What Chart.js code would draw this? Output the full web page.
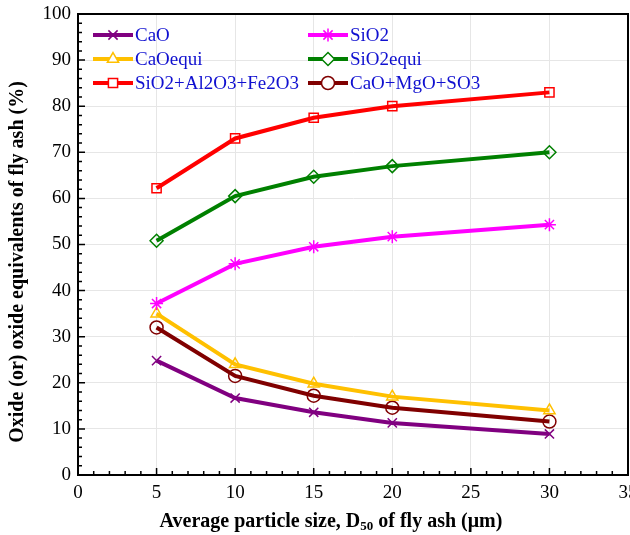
<!DOCTYPE html>
<html>
<head>
<script src="https://cdn.jsdelivr.net/npm/chart.js@4.4.0/dist/chart.umd.min.js"></script>
<style>
  body { margin: 0; background: #fff; }
  #wrap { width: 630px; height: 535px; }
</style>
</head>
<body>
<div id="wrap"><canvas id="c"></canvas></div>
<script>
// particle size D50 (um)
const sizes = [5, 10, 15, 20, 30];

const cao      = [24.8, 16.7, 13.6, 11.3, 8.9];
const sio2     = [37.2, 45.8, 49.5, 51.7, 54.3];
const caoEqui  = [35.0, 24.0, 19.8, 17.0, 14.0];
const sio2Equi = [50.8, 60.5, 64.7, 67.0, 70.0];
const sumSAF   = [62.2, 73.0, 77.5, 80.0, 83.0];
const sumCMS   = [32.0, 21.5, 17.2, 14.6, 11.6];

const names = ['CaO', 'SiO2', 'CaOequi', 'SiO2equi', 'SiO2+Al2O3+Fe2O3', 'CaO+MgO+SO3'];

const serif = '"Liberation Serif", "Times New Roman", serif';

function series(label, vals, color, style, rot) {
    return {
        label: label,
        data: sizes.map((x, i) => ({ x: x, y: vals[i] })),
        borderColor: color,
        backgroundColor: 'rgba(255,255,255,0)',
        borderWidth: 4,
        pointStyle: style,
        pointRotation: rot || 0,
        pointRadius: 6.5,
        pointBorderWidth: 1.5,
        pointBorderColor: color,
        pointBackgroundColor: 'rgba(255,255,255,0)',
        tension: 0
    };
}

const datasets = [
    series(names[0], cao, '#800080', 'crossRot'),
    series(names[1], sio2, '#ff00ff', 'star'),
    series(names[2], caoEqui, '#ffc000', 'triangle'),
    series(names[3], sio2Equi, '#008000', 'rectRot'),
    series(names[4], sumSAF, '#ff0000', 'rect'),
    series(names[5], sumCMS, '#800000', 'circle')
];

// box, inward minor ticks, axis titles and in-plot legend
const decor = {
    id: 'decor',
    afterDraw(chart) {
        const ctx = chart.ctx, a = chart.chartArea;
        const xs = chart.scales.x, ys = chart.scales.y;
        ctx.save();
        ctx.strokeStyle = '#000';
        ctx.lineWidth = 2;
        ctx.strokeRect(a.left, a.top, a.right - a.left, a.bottom - a.top);
        ctx.lineWidth = 1.5;
        ctx.beginPath();
        for (let v = 0; v <= 35; v++) {
            const px = xs.getPixelForValue(v);
            const len = v % 5 === 0 ? 7 : 4;
            ctx.moveTo(px, a.bottom);
            ctx.lineTo(px, a.bottom - len);
        }
        for (let v = 0; v <= 100; v += 2) {
            const py = ys.getPixelForValue(v);
            const len = v % 10 === 0 ? 7 : 4;
            ctx.moveTo(a.left, py);
            ctx.lineTo(a.left + len, py);
        }
        ctx.stroke();

        // axis titles
        ctx.fillStyle = '#000';
        ctx.textBaseline = 'middle';
        ctx.textAlign = 'left';
        const big = 'bold 20px ' + serif, small = 'bold 13px ' + serif;
        const p1 = 'Average particle size, D', p2 = '50', p3 = ' of fly ash (\u03bcm)';
        ctx.font = big;
        const w1 = ctx.measureText(p1).width, w3 = ctx.measureText(p3).width;
        ctx.font = small;
        const w2 = ctx.measureText(p2).width;
        let tx = 331 - (w1 + w2 + w3) / 2;
        const ty = chart.height - 13;
        ctx.font = big; ctx.fillText(p1, tx, ty); tx += w1;
        ctx.font = small; ctx.fillText(p2, tx, ty + 5); tx += w2;
        ctx.font = big; ctx.fillText(p3, tx, ty);

        ctx.save();
        ctx.translate(18, 262);
        ctx.rotate(-Math.PI / 2);
        ctx.textAlign = 'center';
        ctx.font = big;
        ctx.fillText('Oxide (or) oxide equivalents of fly ash (%)', 0, 0);
        ctx.restore();

        // legend, two columns
        ctx.textAlign = 'left';
        ctx.font = '19px ' + serif;
        chart.data.datasets.forEach((ds, i) => {
            const col = i % 2, row = Math.floor(i / 2);
            const x0 = a.left + 15 + col * 215;
            const y0 = a.top + 21 + row * 24;
            ctx.strokeStyle = ds.borderColor;
            ctx.lineWidth = 4;
            ctx.beginPath();
            ctx.moveTo(x0, y0);
            ctx.lineTo(x0 + 40, y0);
            ctx.stroke();
            ctx.fillStyle = '#fff';
            ctx.strokeStyle = ds.borderColor;
            ctx.lineWidth = 1.5;
            Chart.helpers.drawPoint(ctx, {
                pointStyle: ds.pointStyle,
                radius: 6.5,
                rotation: ds.pointRotation,
                borderWidth: 1.5
            }, x0 + 20, y0);
            ctx.fillStyle = '#1010d0';
            ctx.fillText(ds.label, x0 + 42, y0 + 1);
        });
        ctx.restore();
    }
};

new Chart(document.getElementById('c'), {
    type: 'line',
    data: { datasets: datasets },
    options: {
        responsive: true,
        maintainAspectRatio: false,
        animation: false,
        layout: { autoPadding: false, padding: { top: 14, right: 2, left: 0, bottom: 0 } },
        plugins: {
            legend: { display: false },
            tooltip: { enabled: false }
        },
        scales: {
            x: {
                type: 'linear',
                min: 0,
                max: 35,
                afterFit(s) { s.height = 60; s.paddingRight = 0; s.paddingLeft = 0; },
                ticks: { stepSize: 5, color: '#000', padding: 7, font: { family: serif, size: 19 } },
                grid: { color: '#e6e6e6', drawTicks: false },
                border: { color: '#000', width: 2 },
                title: { display: false }
            },
            y: {
                min: 0,
                max: 100,
                afterFit(s) { s.width = 78; s.paddingTop = 0; s.paddingBottom = 0; },
                ticks: { stepSize: 10, color: '#000', padding: 7, font: { family: serif, size: 19 } },
                grid: { color: '#e6e6e6', drawTicks: false },
                border: { color: '#000', width: 2 },
                title: { display: false }
            }
        }
    },
    plugins: [decor]
});
</script>
</body>
</html>
